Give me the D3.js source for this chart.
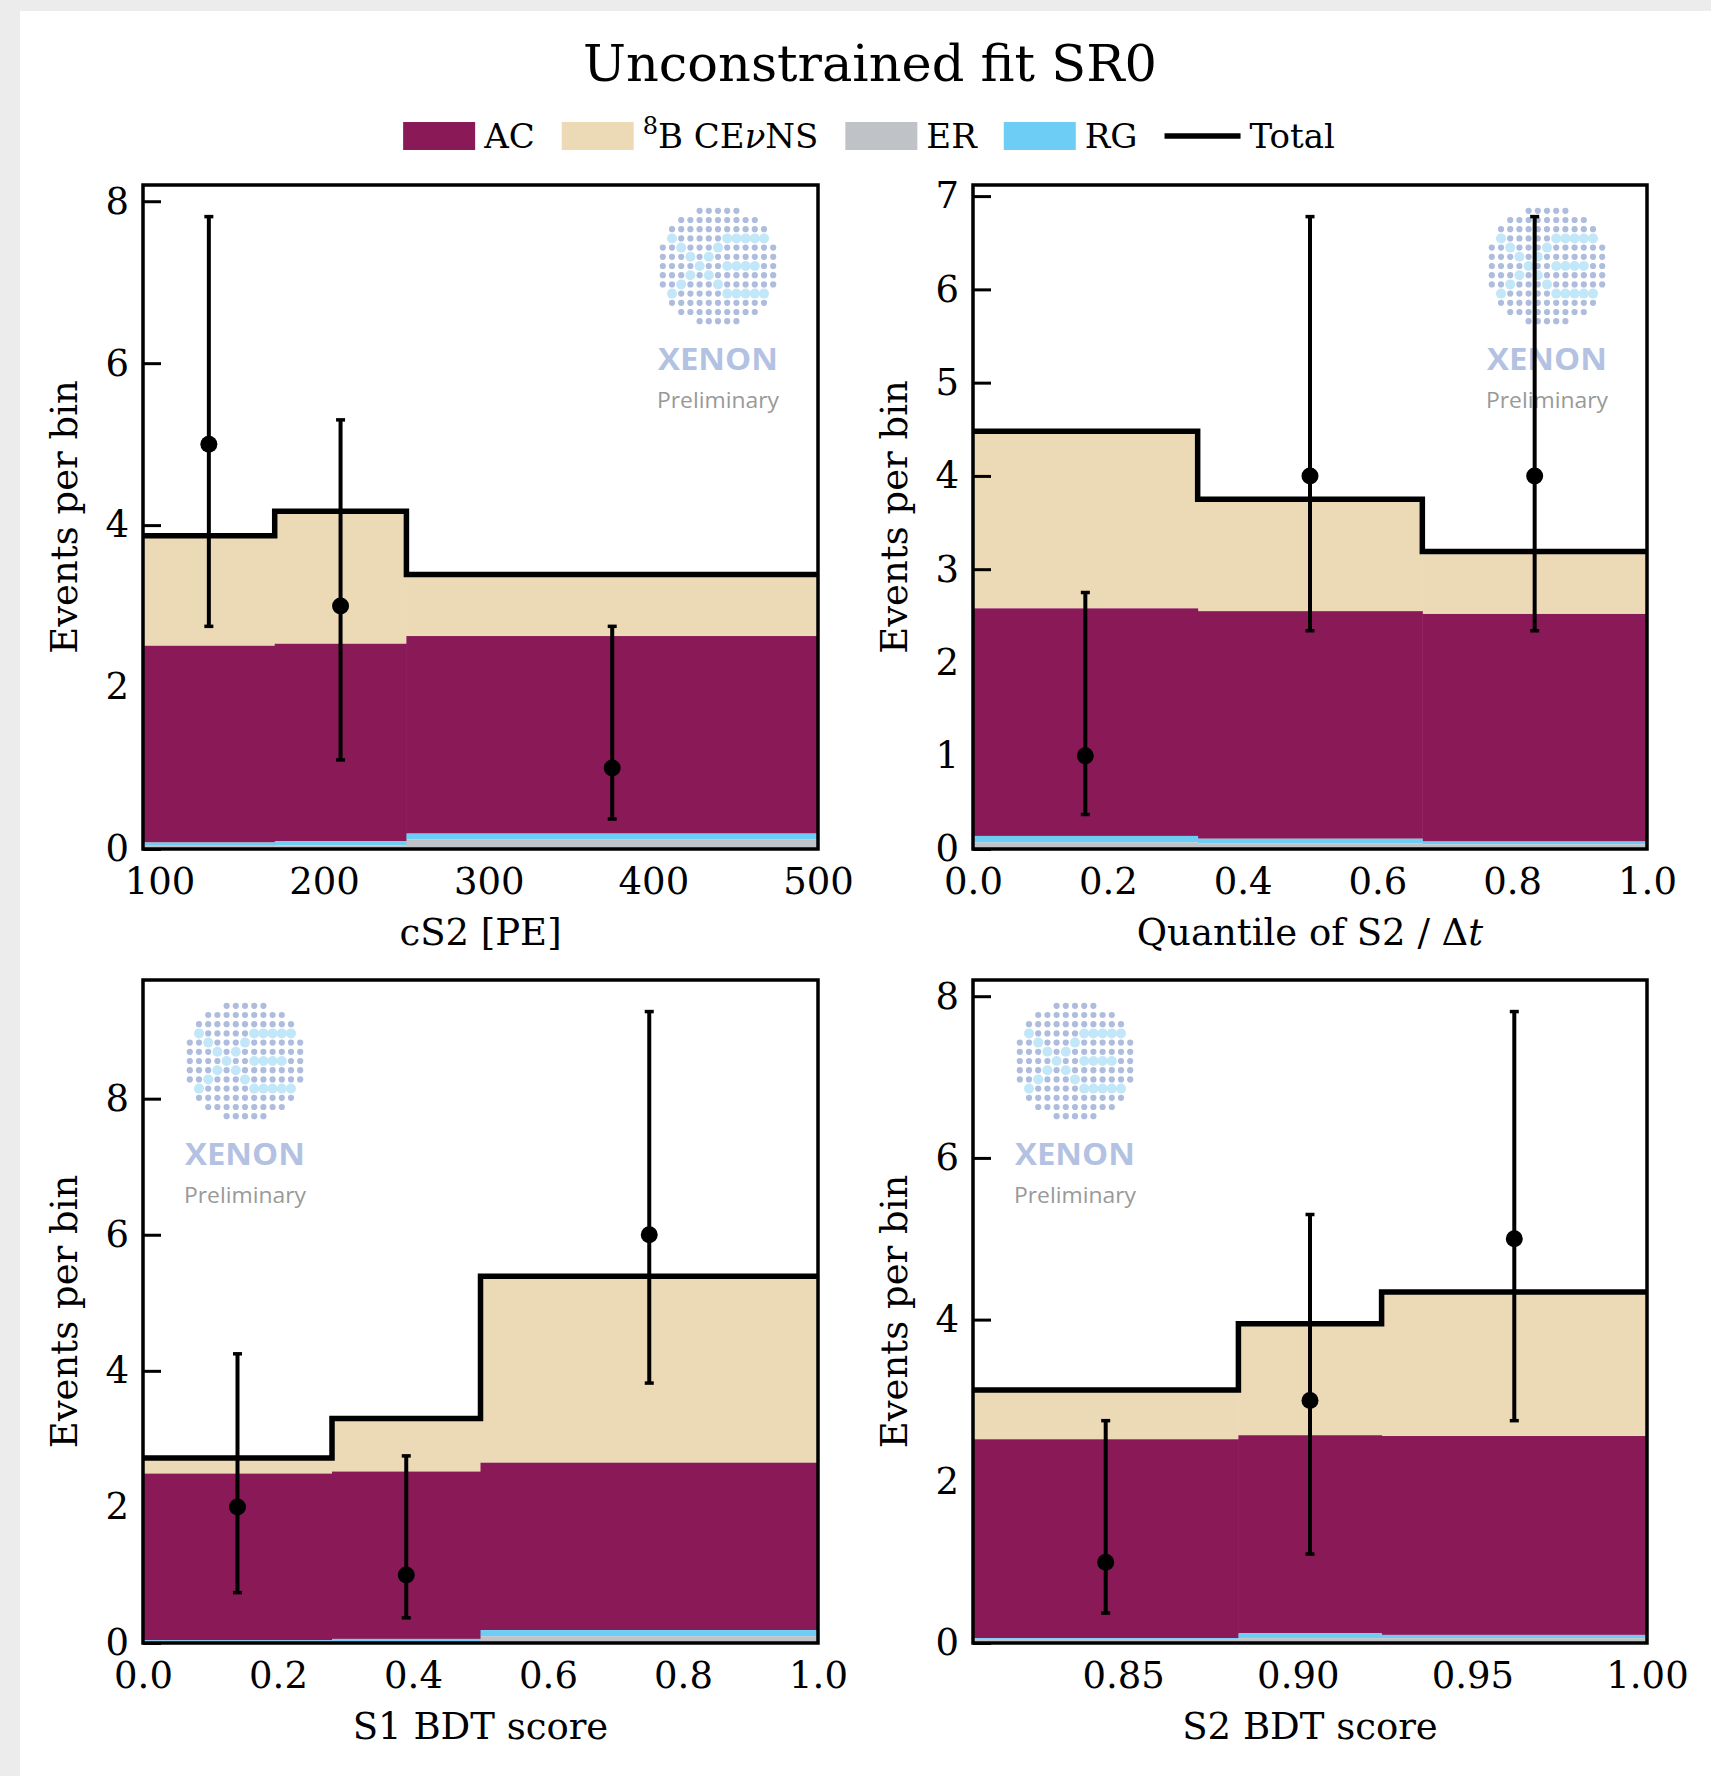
<!DOCTYPE html>
<html>
<head>
<meta charset="utf-8">
<script src="https://cdn.jsdelivr.net/npm/d3@7"></script>
<style>
  html, body { margin: 0; padding: 0; background: #ececec; }
  svg { display: block; }
</style>
</head>
<body>
<svg id="chart" width="1711" height="1776"></svg>
<script>
// ---------------- data ----------------
// Stacked components per bin (bottom to top): ER, RG, AC, 8B CEvNS
// cS2 [PE]
const cs2Edges   = [90, 170, 250, 500];
const cs2Centers = [130, 210, 375];
const cs2ER      = [0.04, 0.045, 0.12];
const cs2RG      = [0.04, 0.05, 0.07];
const cs2AC      = [2.43, 2.44, 2.44];
const cs2CEvNS   = [1.36, 1.635, 0.76];
const cs2Counts  = [5, 3, 1];
const cs2Lo      = [2.75, 1.10, 0.37];
const cs2Hi      = [7.81, 5.30, 2.75];
const cs2Ticks   = [100, 200, 300, 400, 500];

// Quantile of S2 / dt
const qEdges   = [0, 1 / 3, 2 / 3, 1];
const qCenters = [1 / 6, 0.5, 5 / 6];
const qER      = [0.07, 0.06, 0.05];
const qRG      = [0.07, 0.05, 0.03];
const qAC      = [2.44, 2.44, 2.44];
const qCEvNS   = [1.90, 1.20, 0.67];
const qCounts  = [1, 4, 4];
const qLo      = [0.37, 2.34, 2.34];
const qHi      = [2.75, 6.78, 6.78];
const qTicks   = [0, 0.2, 0.4, 0.6, 0.8, 1.0];

// S1 BDT score
const s1Edges   = [0, 0.28, 0.5, 1.0];
const s1Centers = [0.14, 0.39, 0.75];
const s1ER      = [0.03, 0.03, 0.10];
const s1RG      = [0.01, 0.03, 0.09];
const s1AC      = [2.45, 2.46, 2.46];
const s1CEvNS   = [0.23, 0.78, 2.74];
const s1Counts  = [2, 1, 6];
const s1Lo      = [0.74, 0.37, 3.82];
const s1Hi      = [4.25, 2.75, 9.28];
const s1Ticks   = [0, 0.2, 0.4, 0.6, 0.8, 1.0];

// S2 BDT score
const s2Edges   = [0.807, 0.883, 0.924, 1.0];
const s2Centers = [0.845, 0.9035, 0.962];
const s2ER      = [0.04, 0.06, 0.06];
const s2RG      = [0.02, 0.06, 0.04];
const s2AC      = [2.46, 2.45, 2.46];
const s2CEvNS   = [0.61, 1.38, 1.78];
const s2Counts  = [1, 3, 5];
const s2Lo      = [0.37, 1.10, 2.75];
const s2Hi      = [2.75, 5.30, 7.81];
const s2Ticks   = [0.85, 0.90, 0.95, 1.00];

const seriesKeys   = ["ER", "RG", "AC", "CEvNS"];
const seriesColors = { AC: "#8a1957", CEvNS: "#ecdab6", ER: "#bfc2c6", RG: "#6dcdf4" };
const legendOrder  = ["AC", "CEvNS", "ER", "RG", "Total"];

// ---------------- layout ----------------
const SERIF = "'DejaVu Serif', serif";
const TICK_FS = 37;
const LABEL_FS = 37;

const panels = [
  { edges: cs2Edges, centers: cs2Centers, ER: cs2ER, RG: cs2RG, AC: cs2AC, CEvNS: cs2CEvNS,
    counts: cs2Counts, lo: cs2Lo, hi: cs2Hi, ticks: cs2Ticks, fmt: d3.format("d"), yStep: 2,
    xlabel: [["cS2 [PE]", false]],
    box: { left: 143, top: 185, right: 818, bottom: 849 }, logo: "right" },
  { edges: qEdges, centers: qCenters, ER: qER, RG: qRG, AC: qAC, CEvNS: qCEvNS,
    counts: qCounts, lo: qLo, hi: qHi, ticks: qTicks, fmt: d3.format(".1f"), yStep: 1,
    xlabel: [["Quantile of S2 / \u0394", false], ["t", true]],
    box: { left: 973, top: 185, right: 1647, bottom: 849 }, logo: "right" },
  { edges: s1Edges, centers: s1Centers, ER: s1ER, RG: s1RG, AC: s1AC, CEvNS: s1CEvNS,
    counts: s1Counts, lo: s1Lo, hi: s1Hi, ticks: s1Ticks, fmt: d3.format(".1f"), yStep: 2,
    xlabel: [["S1 BDT score", false]],
    box: { left: 143, top: 980, right: 818, bottom: 1643 }, logo: "left" },
  { edges: s2Edges, centers: s2Centers, ER: s2ER, RG: s2RG, AC: s2AC, CEvNS: s2CEvNS,
    counts: s2Counts, lo: s2Lo, hi: s2Hi, ticks: s2Ticks, fmt: d3.format(".2f"), yStep: 2,
    xlabel: [["S2 BDT score", false]],
    box: { left: 973, top: 980, right: 1647, bottom: 1643 }, logo: "left" }
];

const svg = d3.select("#chart");

// page card
svg.append("rect").attr("x", 0).attr("y", 0).attr("width", 1711).attr("height", 1776).attr("fill", "#ececec");
svg.append("rect").attr("x", 20).attr("y", 11).attr("width", 1691).attr("height", 1765).attr("fill", "#ffffff");

// title
svg.append("text")
  .attr("x", 870).attr("y", 81)
  .attr("text-anchor", "middle")
  .attr("font-family", SERIF).attr("font-size", 51)
  .attr("fill", "#000")
  .text("Unconstrained fit SR0");

// ---------------- legend ----------------
(function drawLegend() {
  const LFS = 34;
  const g = svg.append("g");
  let x = 0;
  legendOrder.forEach(key => {
    const item = g.append("g").attr("transform", `translate(${x},0)`);
    let handleW;
    if (key === "Total") {
      handleW = 76;
      item.append("line").attr("x1", 0).attr("x2", handleW).attr("y1", 0).attr("y2", 0)
        .attr("stroke", "#000").attr("stroke-width", 5.5);
    } else {
      handleW = 72;
      item.append("rect").attr("x", 0).attr("y", -14).attr("width", handleW).attr("height", 28)
        .attr("fill", seriesColors[key]);
    }
    const t = item.append("text").attr("x", handleW + 9).attr("y", 12)
      .attr("font-family", SERIF).attr("font-size", LFS).attr("fill", "#000");
    if (key === "CEvNS") {
      t.append("tspan").attr("font-size", 24).attr("dy", -14).text("8");
      t.append("tspan").attr("dy", 14).text("B CE");
      t.append("tspan").attr("font-style", "italic").text("\u03bd");
      t.append("tspan").text("NS");
    } else {
      t.text(key);
    }
    x += handleW + 9 + t.node().getComputedTextLength() + 27;
  });
  const total = x - 27;
  g.attr("transform", `translate(${869 - total / 2},136)`);
})();

// ---------------- XENON watermark ----------------
const logoHighlights = new Set([
  "-5,-3", "-4,-2", "-3,-1", "-2,0", "-1,1", "0,2",
  "-5,3", "-4,2", "-3,1", "-1,-1", "0,-2",
  "1,-3", "2,-3", "3,-3", "4,-3", "5,-3",
  "1,0", "2,0", "3,0", "4,0",
  "1,3", "2,3", "3,3", "4,3", "5,3"
]);

function drawLogo(g, cx, cy) {
  const sp = 9.2;
  for (let r = -6; r <= 6; r++) {
    for (let c = -6; c <= 6; c++) {
      if (r * r + c * c > 43) continue;
      const hi = logoHighlights.has(`${c},${r}`);
      g.append("circle")
        .attr("cx", cx + c * sp).attr("cy", cy + r * sp)
        .attr("r", hi ? 5 : 3.1)
        .attr("fill", hi ? "#c2e7f9" : "#aebcdd");
    }
  }
  g.append("text").attr("x", cx).attr("y", cy + 104)
    .attr("text-anchor", "middle")
    .attr("font-family", "'Open Sans', sans-serif").attr("font-weight", 700)
    .attr("font-size", 31).attr("fill", "#b3c2e2")
    .attr("textLength", 120).attr("lengthAdjust", "spacingAndGlyphs")
    .text("XENON");
  g.append("text").attr("x", cx).attr("y", cy + 142)
    .attr("text-anchor", "middle")
    .attr("font-family", "'Open Sans', sans-serif")
    .attr("font-size", 22).attr("fill", "#999999")
    .attr("textLength", 122).attr("lengthAdjust", "spacingAndGlyphs")
    .text("Preliminary");
}

// ---------------- panels ----------------
panels.forEach(p => {
  const b = p.box;
  const g = svg.append("g");
  const x = d3.scaleLinear().domain([p.edges[0], p.edges[p.edges.length - 1]]).range([b.left, b.right]);
  const yMax = d3.max(p.hi) * 1.05;
  const y = d3.scaleLinear().domain([0, yMax]).range([b.bottom, b.top]);

  const rows = p.centers.map((c, i) => ({ i, ER: p.ER[i], RG: p.RG[i], AC: p.AC[i], CEvNS: p.CEvNS[i] }));
  const stacked = d3.stack().keys(seriesKeys)(rows);
  const layerByKey = {};
  stacked.forEach(l => { layerByKey[l.key] = l; });

  function drawLayer(key) {
    g.append("g").selectAll("rect").data(layerByKey[key]).join("rect")
      .attr("x", d => x(p.edges[d.data.i]))
      .attr("width", d => x(p.edges[d.data.i + 1]) - x(p.edges[d.data.i]) + 0.5)
      .attr("y", d => y(d[1]))
      .attr("height", d => y(d[0]) - y(d[1]))
      .attr("fill", seriesColors[key]);
  }

  // watermark
  const logoG = g.append("g");
  if (p.logo === "right") drawLogo(logoG, b.right - 100, b.top + 81);
  else drawLogo(logoG, b.left + 102, b.top + 81);

  // CEvNS layer sits under the tick marks, the other layers cover them
  drawLayer("CEvNS");

  // y axis with inward ticks
  const yAxis = d3.axisLeft(y).tickValues(d3.range(0, yMax, p.yStep))
    .tickSizeInner(-18).tickSizeOuter(0).tickPadding(14).tickFormat(d3.format("d"));
  const ya = g.append("g").attr("transform", `translate(${b.left},0)`).call(yAxis);
  ya.select(".domain").remove();
  ya.selectAll(".tick line").attr("stroke", "#000").attr("stroke-width", 3);
  ya.selectAll(".tick text").attr("font-family", SERIF).attr("font-size", TICK_FS).attr("fill", "#000");

  // x axis labels only
  const xAxis = d3.axisBottom(x).tickValues(p.ticks).tickFormat(p.fmt)
    .tickSizeInner(0).tickSizeOuter(0).tickPadding(19);
  const xa = g.append("g").attr("transform", `translate(0,${b.bottom})`).call(xAxis);
  xa.select(".domain").remove();
  xa.selectAll(".tick line").remove();
  xa.selectAll(".tick text").attr("font-family", SERIF).attr("font-size", TICK_FS).attr("fill", "#000");

  drawLayer("AC");
  drawLayer("RG");
  drawLayer("ER");

  // total step line
  const totals = rows.map(r => r.ER + r.RG + r.AC + r.CEvNS);
  const stepPts = [];
  totals.forEach((t, i) => {
    stepPts.push([x(p.edges[i]), y(t)]);
    stepPts.push([x(p.edges[i + 1]), y(t)]);
  });
  g.append("path")
    .attr("d", d3.line()(stepPts))
    .attr("fill", "none").attr("stroke", "#000").attr("stroke-width", 5.5)
    .attr("stroke-linejoin", "miter");

  // frame
  g.append("rect")
    .attr("x", b.left).attr("y", b.top)
    .attr("width", b.right - b.left).attr("height", b.bottom - b.top)
    .attr("fill", "none").attr("stroke", "#000").attr("stroke-width", 3.5);

  // observed counts with error bars
  const pts = p.counts.map((n, i) => ({ x: p.centers[i], n, lo: p.lo[i], hi: p.hi[i] }));
  const eb = g.append("g").selectAll("g").data(pts).join("g");
  eb.append("line")
    .attr("x1", d => x(d.x)).attr("x2", d => x(d.x))
    .attr("y1", d => y(d.lo)).attr("y2", d => y(d.hi))
    .attr("stroke", "#000").attr("stroke-width", 4);
  eb.append("line")
    .attr("x1", d => x(d.x) - 4.5).attr("x2", d => x(d.x) + 4.5)
    .attr("y1", d => y(d.lo)).attr("y2", d => y(d.lo))
    .attr("stroke", "#000").attr("stroke-width", 3.5);
  eb.append("line")
    .attr("x1", d => x(d.x) - 4.5).attr("x2", d => x(d.x) + 4.5)
    .attr("y1", d => y(d.hi)).attr("y2", d => y(d.hi))
    .attr("stroke", "#000").attr("stroke-width", 3.5);
  eb.append("circle")
    .attr("cx", d => x(d.x)).attr("cy", d => y(d.n)).attr("r", 8.5)
    .attr("fill", "#000");

  // axis labels
  const xl = g.append("text")
    .attr("x", (b.left + b.right) / 2).attr("y", b.bottom + 96)
    .attr("text-anchor", "middle")
    .attr("font-family", SERIF).attr("font-size", LABEL_FS).attr("fill", "#000");
  p.xlabel.forEach(([s, it]) => {
    const ts = xl.append("tspan").text(s);
    if (it) ts.attr("font-style", "italic");
  });
  g.append("text")
    .attr("transform", `translate(${b.left - 66},${(b.top + b.bottom) / 2}) rotate(-90)`)
    .attr("text-anchor", "middle")
    .attr("font-family", SERIF).attr("font-size", LABEL_FS).attr("fill", "#000")
    .text("Events per bin");
});
</script>
</body>
</html>
